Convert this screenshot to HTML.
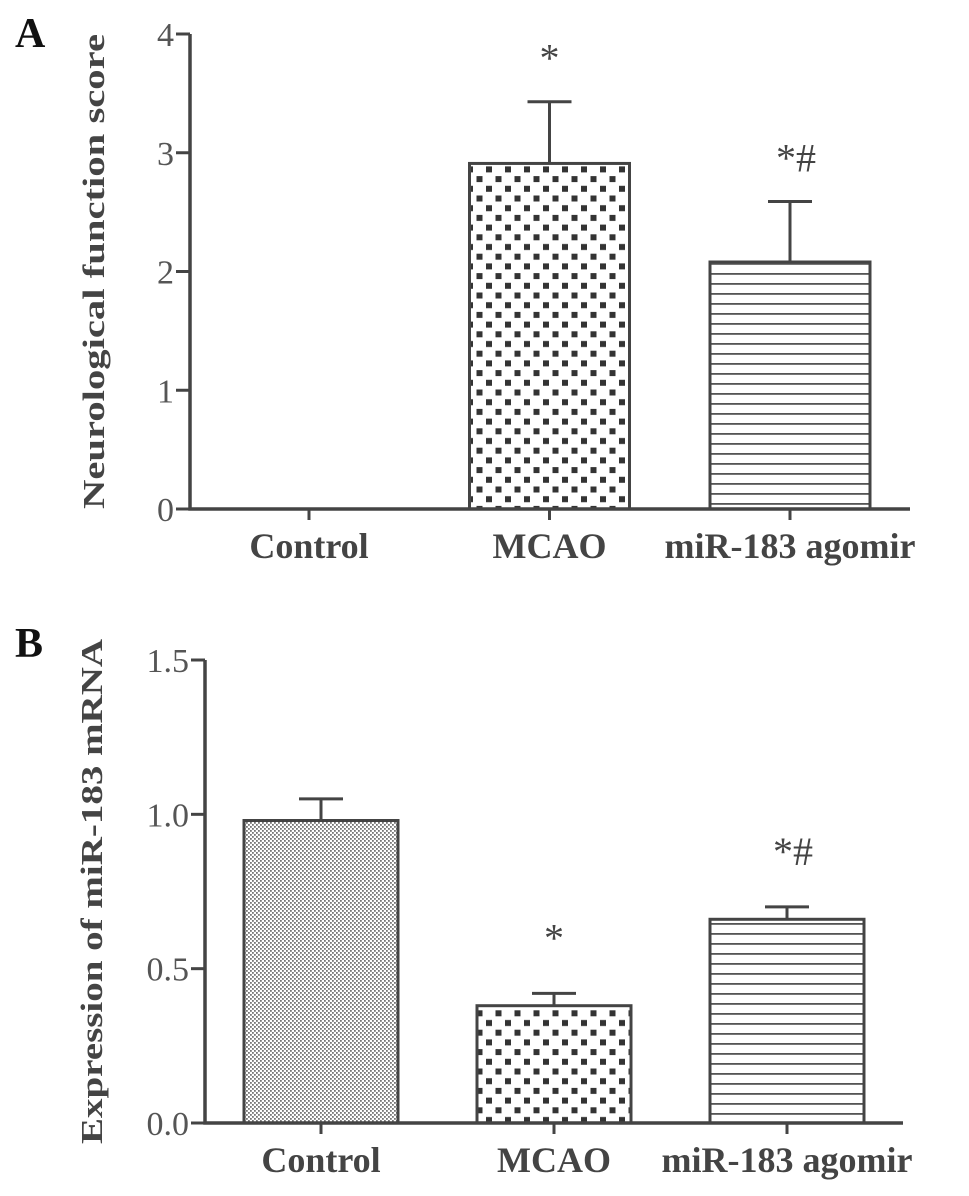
<!DOCTYPE html>
<html><head><meta charset="utf-8"><style>
html,body{margin:0;padding:0;background:#fff;}
svg{display:block;}
text{font-family:"Liberation Serif",serif;font-weight:bold;fill:#444;}
</style></head><body>
<svg id="chart" width="969" height="1196" viewBox="0 0 969 1196" xmlns="http://www.w3.org/2000/svg">
<defs>
<pattern id="pDots" width="4" height="4" patternUnits="userSpaceOnUse">
<rect width="4" height="4" fill="#fff"/><rect x="0" y="0" width="1.8" height="1.8" fill="#777"/><rect x="2" y="2" width="1.8" height="1.8" fill="#777"/>
</pattern>
<pattern id="pCheck" width="19" height="19.4" patternUnits="userSpaceOnUse">
<rect width="19" height="19.4" fill="#fff"/><rect x="1.5" y="1.5" width="6" height="6" fill="#333"/><rect x="11" y="11.2" width="6" height="6" fill="#333"/>
</pattern>
<pattern id="pStripe" width="10" height="10" patternUnits="userSpaceOnUse">
<rect width="10" height="10" fill="#fff"/><rect x="0" y="3" width="10" height="1.8" fill="#555"/>
</pattern>
</defs>
<g id="panelA"></g>
<g id="panelB"></g>
</svg>
<script>
const categories = ["Control", "MCAO", "miR-183 agomir"];
const scoreValues = [0, 2.91, 2.08];
const scoreErrors = [0, 0.52, 0.51];
const scoreSig = ["", "*", "*#"];
const scoreTicks = ["0", "1", "2", "3", "4"];
const exprValues = [0.98, 0.38, 0.66];
const exprErrors = [0.07, 0.04, 0.04];
const exprSig = ["", "*", "*#"];
const exprTicks = ["0.0", "0.5", "1.0", "1.5"];
const fills = ["url(#pDots)", "url(#pCheck)", "url(#pStripe)"];

const NS = "http://www.w3.org/2000/svg";
function mk(parent, tag, attrs, txt){
  const e = document.createElementNS(NS, tag);
  for (const k in attrs) e.setAttribute(k, attrs[k]);
  if (txt !== undefined) e.textContent = txt;
  parent.appendChild(e);
  return e;
}
function drawPanel(g, cfg){
  const yScale = v => cfg.y0 - (v - cfg.min) / (cfg.max - cfg.min) * (cfg.y0 - cfg.y1);
  const xScale = i => cfg.c0 + i * cfg.step;
  const letter = mk(g, "text", {x: 15, y: cfg.letterY, "font-size": 42, style: "fill:#111"}, cfg.letter);
  
  
  const t = mk(g, "text", {transform: `translate(${cfg.titleX},${(cfg.y0 + cfg.y1) / 2}) rotate(-90)`, "text-anchor": "middle", "font-size": 31, textLength: cfg.titleLen, lengthAdjust: "spacingAndGlyphs"}, cfg.title);
  
  
  cfg.values.forEach((v, i) => {
    const cx = xScale(i);
    if (v > 0) {
      const b = mk(g, "rect", {x: cx - cfg.bw / 2, y: yScale(v), width: cfg.bw, height: cfg.y0 - yScale(v), fill: fills[i], stroke: "#444", "stroke-width": 3});
      
      
      const eTop = yScale(v + cfg.errors[i]);
      const el = mk(g, "path", {d: `M${cx},${yScale(v)}V${eTop}M${cx - 22},${eTop}H${cx + 22}`, stroke: "#444", "stroke-width": 3, fill: "none"});
      
      
      if (cfg.sig[i]) {
        const s = mk(g, "text", {x: cx + (cfg.sig[i].length > 1 ? 6 : 0), y: eTop - cfg.sigGap, "text-anchor": "middle", "font-size": 40, style: "font-weight:normal"}, cfg.sig[i]);
        
        
      }
    }
    const tk = mk(g, "line", {x1: cx, x2: cx, y1: cfg.y0, y2: cfg.y0 + 11, stroke: "#444", "stroke-width": 3});
    
    
    const lb = mk(g, "text", {x: cx, y: cfg.y0 + 49, "text-anchor": "middle", "font-size": 36}, categories[i]);
    
    
  });
  const ax = mk(g, "path", {d: `M${cfg.ax},${cfg.y1}V${cfg.y0}H${cfg.axEnd}`, stroke: "#444", "stroke-width": 3.5, fill: "none"});
  
  
  cfg.ticks.forEach(tl => {
    const y = yScale(parseFloat(tl));
    const tk = mk(g, "line", {x1: cfg.ax - 14, x2: cfg.ax, y1: y, y2: y, stroke: "#444", "stroke-width": 3});
    
    
    const lb = mk(g, "text", {x: cfg.ax - 16, y: y + 12, "text-anchor": "end", "font-size": 34, style: "font-weight:normal;fill:#555"}, tl);
    
    
  });
}
drawPanel(document.getElementById("panelA"), {
  letter: "A", letterY: 47, title: "Neurological function score", titleX: 104, titleLen: 475,
  values: scoreValues, errors: scoreErrors, sig: scoreSig, ticks: scoreTicks,
  min: 0, max: 4, y0: 509, y1: 34, ax: 190, axEnd: 910, c0: 309, step: 240.5, bw: 160, sigGap: 30
});
drawPanel(document.getElementById("panelB"), {
  letter: "B", letterY: 657, title: "Expression of miR-183 mRNA", titleX: 102, titleLen: 505,
  values: exprValues, errors: exprErrors, sig: exprSig, ticks: exprTicks,
  min: 0, max: 1.5, y0: 1123, y1: 660, ax: 205, axEnd: 903, c0: 321, step: 233, bw: 154, sigGap: 42
});
</script>
</body></html>
